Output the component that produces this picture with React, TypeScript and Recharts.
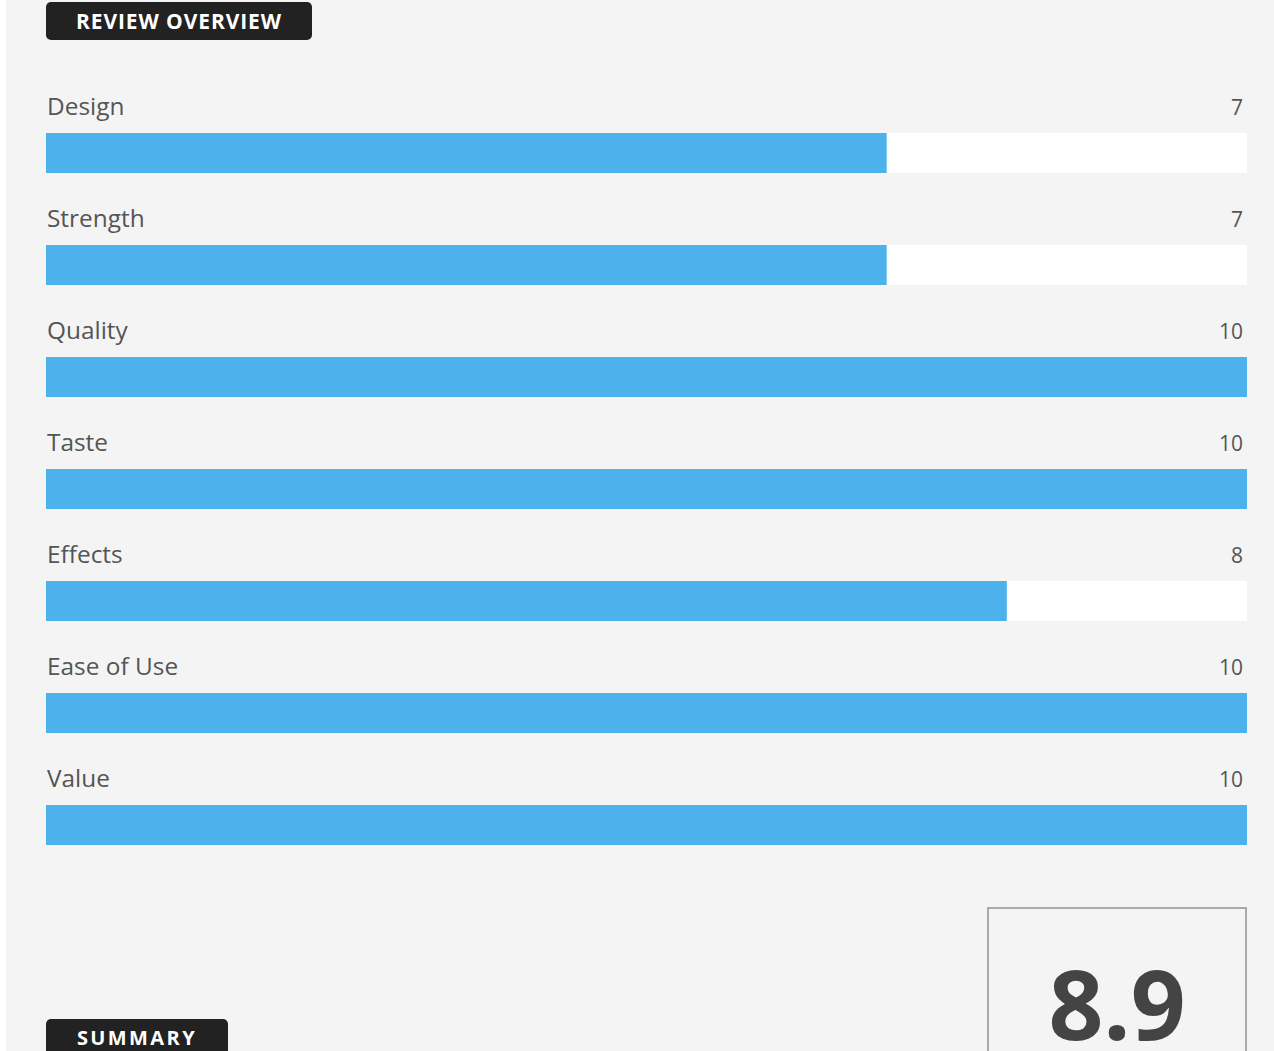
import React from 'react';
import { BarChart, Bar, XAxis, YAxis, LabelList } from 'recharts';

const categories = ['Design', 'Strength', 'Quality', 'Taste', 'Effects', 'Ease of Use', 'Value'];
const scores = [7, 7, 10, 10, 8, 10, 10];
const maxScore = 10;
const overallScore = '8.9';
const headerTitle = 'REVIEW OVERVIEW';
const summaryTitle = 'SUMMARY';

const data = categories.map((name, i) => ({ name, value: scores[i] }));

const CHART_W = 1274;
const CHART_H = 900;
const MARGIN = { top: 97, right: 27, bottom: 19, left: 46 };
const PLOT_RIGHT = CHART_W - MARGIN.right;
const FONT = '"Open Sans", "Noto Sans", sans-serif';

const RowLabel = (props: any) => {
  const { x, y, index, value } = props;
  return (
    <g>
      <text x={x + 1} y={y - 18} fill="#555" fontSize={24.4} fontFamily={FONT}>
        {categories[index]}
      </text>
      <text x={PLOT_RIGHT - 4} y={y - 18} fill="#555" fontSize={21} fontFamily={FONT} textAnchor="end">
        {value}
      </text>
    </g>
  );
};

const darkTag: React.CSSProperties = {
  position: 'absolute',
  background: '#222',
  color: '#fff',
  borderRadius: 5,
  fontFamily: FONT,
  fontWeight: 700,
  display: 'flex',
  alignItems: 'center',
  justifyContent: 'center',
  boxSizing: 'border-box',
};

export default function App() {
  return (
    <div style={{ position: 'relative', width: 1274, height: 1051, overflow: 'hidden' }}>
      <style>{'body{margin:0;background:#fff;}'}</style>
      <div style={{ position: 'absolute', left: 6, top: 0, width: 1268, height: 1051, background: '#f4f4f4' }} />
      <div style={{ ...darkTag, left: 46, top: 2, width: 266, height: 38, fontSize: 21, letterSpacing: 0.9 }}>{headerTitle}</div>
      <div style={{ position: 'absolute', left: 0, top: 0 }}>
        <BarChart width={CHART_W} height={CHART_H} data={data} layout="vertical" margin={MARGIN}>
          <XAxis type="number" domain={[0, maxScore]} hide />
          <YAxis type="category" dataKey="name" hide />
          <Bar
            dataKey="value"
            fill="#4db1eb"
            barSize={40}
            background={{ fill: '#ffffff' }}
            isAnimationActive={false}
          >
            <LabelList dataKey="value" content={RowLabel} />
          </Bar>
        </BarChart>
      </div>
      <div
        style={{
          position: 'absolute',
          left: 987,
          top: 907,
          width: 260,
          height: 220,
          border: '2px solid #aaa',
          boxSizing: 'border-box',
        }}
      />
      <div
        style={{
          position: 'absolute',
          left: 987,
          width: 260,
          top: 938,
          textAlign: 'center',
          fontFamily: FONT,
          fontWeight: 700,
          fontSize: 96,
          lineHeight: '130px',
          color: '#444',
        }}
      >
        {overallScore}
      </div>
      <div style={{ ...darkTag, left: 46, top: 1019, width: 182, height: 40, fontSize: 20, letterSpacing: 2.4, alignItems: 'flex-start', paddingTop: 5 }}>
        {summaryTitle}
      </div>
    </div>
  );
}
